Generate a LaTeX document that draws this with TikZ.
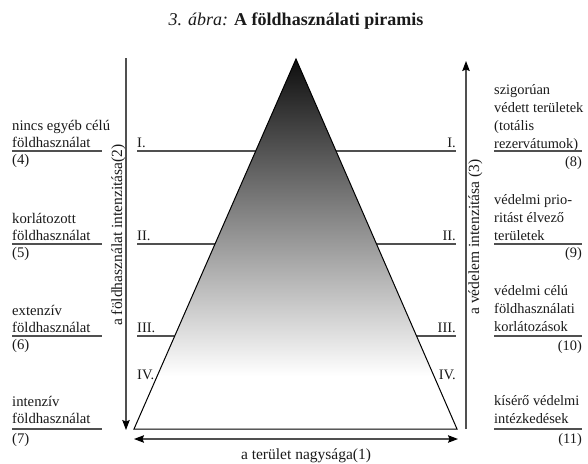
\documentclass[tikz,border=0pt]{standalone}
\usepackage{fontspec}
\setmainfont{Liberation Serif}
\usepackage{tikz}
\usetikzlibrary{arrows.meta,positioning}
\definecolor{pmgray}{HTML}{505050}
\definecolor{pmink}{HTML}{1A1A1A}
\definecolor{pmtop}{HTML}{0E0E0E}

\tikzset{
  pmleft/.style={font=\fontsize{14.7}{16.6}\selectfont,text=pmink,inner sep=0pt,align=left},
  pmright/.style={font=\fontsize{14.4}{18}\selectfont,text=pmink,inner sep=0pt,align=left},
  pmlevel/.style={font=\fontsize{14.5}{16}\selectfont,text=pmink,inner sep=0pt},
  pmaxislabel/.style={font=\fontsize{15.5}{17}\selectfont,text=pmink,inner sep=0pt},
  pmrule/.style={draw=pmgray,line width=1.3pt},
  pmaxis/.style={draw=pmgray,line width=1.1pt}
}

\begin{document}
\begin{tikzpicture}[x=1pt,y=-1pt]
\useasboundingbox[fill=white] (0,0) rectangle (588,463);

\node[font=\fontsize{18}{20}\selectfont,text=pmink,anchor=base,inner sep=0pt] (title) at (296,25)
  {\textit{3. ábra:} \textbf{A földhasználati piramis}};

\coordinate (apex) at (296,59);
\coordinate (bl) at (134,429);
\coordinate (br) at (457,429);

% szintek
\draw[pmrule] (137,151) -- (456,151);
\draw[pmrule] (137,244) -- (456,244);
\draw[pmrule] (137,336) -- (456,336);

% piramis
\begin{scope}
  \clip (apex) -- (bl) -- (br) -- cycle;
  \fill[white] (120,55) rectangle (470,432);
  \shade[top color=pmtop,bottom color=white] (120,59) rectangle (470,376);
\end{scope}
\draw[black,line width=1pt] (apex) -- (bl) -- (br) -- cycle;

\node[pmlevel,anchor=base west] (lvl1l) at (137,147) {I.};
\node[pmlevel,anchor=base east] (lvl1r) at (456,147) {I.};
\node[pmlevel,anchor=base west] (lvl2l) at (137,240) {II.};
\node[pmlevel,anchor=base east] (lvl2r) at (456,240) {II.};
\node[pmlevel,anchor=base west] (lvl3l) at (137,332) {III.};
\node[pmlevel,anchor=base east] (lvl3r) at (456,332) {III.};
\node[pmlevel,anchor=base west] (lvl4l) at (137,379) {IV.};
\node[pmlevel,anchor=base east] (lvl4r) at (456,379) {IV.};

% tengelyek
\coordinate (landtop) at (126,58);
\coordinate (landbot) at (126,430);
\coordinate (protbot) at (466,429);
\coordinate (prottop) at (466,61);
\coordinate (areal) at (134,439);
\coordinate (arear) at (458,439);
\draw[pmaxis,-{Stealth[length=10pt,width=7.5pt,inset=1.5pt,color=black]}] (landtop) -- (landbot);
\draw[pmaxis,-{Stealth[length=10pt,width=7.5pt,inset=1.5pt,color=black]}] (protbot) -- (prottop);
\draw[pmaxis,{Stealth[length=10pt,width=7.5pt,inset=1.5pt,color=black]}-{Stealth[length=10pt,width=7.5pt,inset=1.5pt,color=black]}] (areal) -- (arear);

\node[pmaxislabel,rotate=90,anchor=base] (landlabel) at (122,235) {a földhasználat intenzitása(2)};
\node[pmaxislabel,rotate=90,anchor=base] (protlabel) at (479,237) {a védelem intenzitása (3)};
\node[pmaxislabel,anchor=base] (arealabel) at (306,459) {a terület nagysága(1)};

% bal oldal
\node[pmleft,anchor=base west] (use4) at (12,147) {nincs egyéb célú\\földhasználat};
\draw[pmrule] (12,151) -- (102,151);
\node[pmleft,anchor=base west] (num4) at (12,164) {(4)};
\node[pmleft,anchor=base west] (use5) at (12,240) {korlátozott\\földhasználat};
\draw[pmrule] (12,244) -- (102,244);
\node[pmleft,anchor=base west] (num5) at (12,257) {(5)};
\node[pmleft,anchor=base west] (use6) at (12,332) {extenzív\\földhasználat};
\draw[pmrule] (12,336) -- (102,336);
\node[pmleft,anchor=base west] (num6) at (12,349) {(6)};
\node[pmleft,anchor=base west] (use7) at (12,423) {intenzív\\földhasználat};
\draw[pmrule] (12,429) -- (102,429);
\node[pmleft,anchor=base west] (num7) at (12,443) {(7)};

% jobb oldal
\node[pmright,anchor=base west] (prot8) at (494,148) {szigorúan\\védett területek\\(totális\\rezervátumok)};
\draw[pmrule] (494,151) -- (582,151);
\node[pmright,anchor=base east] (num8) at (582,166) {(8)};
\node[pmright,anchor=base west] (prot9) at (494,240) {védelmi prio-\\ritást élvező\\területek};
\draw[pmrule] (494,244) -- (582,244);
\node[pmright,anchor=base east] (num9) at (582,257) {(9)};
\node[pmright,anchor=base west] (prot10) at (494,331) {védelmi célú\\földhasználati\\korlátozások};
\draw[pmrule] (494,336) -- (582,336);
\node[pmright,anchor=base east] (num10) at (582,350) {(10)};
\node[pmright,anchor=base west] (prot11) at (494,423) {kísérő védelmi\\intézkedések};
\draw[pmrule] (494,429) -- (582,429);
\node[pmright,anchor=base east] (num11) at (582,443) {(11)};
\end{tikzpicture}
\end{document}
